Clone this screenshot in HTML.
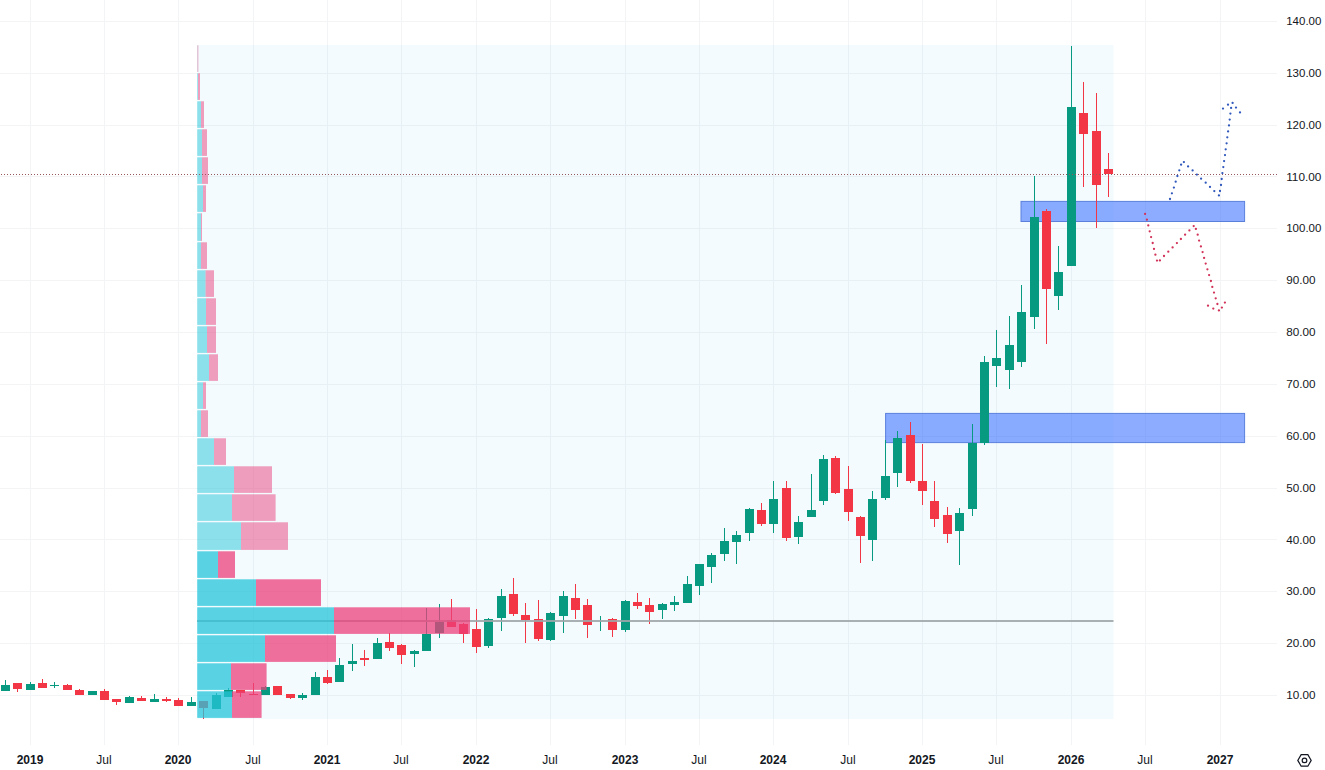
<!DOCTYPE html><html><head><meta charset="utf-8"><title>Chart</title><style>html,body{margin:0;padding:0;background:#fff;overflow:hidden}body{width:1325px;height:770px;font-family:"Liberation Sans",sans-serif}svg{display:block}</style></head><body><svg width="1325" height="770" viewBox="0 0 1325 770"><rect width="1325" height="770" fill="#fff"/><path d="M0 695.5H1277 M0 643.5H1277 M0 591.5H1277 M0 539.5H1277 M0 488.5H1277 M0 436.5H1277 M0 384.5H1277 M0 332.5H1277 M0 280.5H1277 M0 228.5H1277 M0 176.5H1277 M0 125.5H1277 M0 73.5H1277 M0 21.5H1277 M30.5 0V745 M104.5 0V745 M178.5 0V745 M253.5 0V745 M327.5 0V745 M401.5 0V745 M476.5 0V745 M550.5 0V745 M625.5 0V745 M699.5 0V745 M773.5 0V745 M848.5 0V745 M922.5 0V745 M996.5 0V745 M1071.5 0V745 M1145.5 0V745 M1220.5 0V745" stroke="#f2f4f6" stroke-width="1" fill="none" shape-rendering="crispEdges"/><rect x="197.5" y="45" width="916.0" height="674" fill="rgba(3,169,244,0.046)"/><rect x="1021" y="201.4" width="223.5999999999999" height="20.099999999999994" fill="rgba(41,98,255,0.53)" stroke="#5b80dc" stroke-width="1"/><rect x="885.6" y="413.4" width="358.9999999999999" height="29.200000000000045" fill="rgba(41,98,255,0.53)" stroke="#5b80dc" stroke-width="1"/><path d="M5 680h1V691h-1zM30 682h1V690h-1zM54 682h1V688h-1zM92 691h1V695h-1zM129 696h1V703h-1zM154 694h1V702h-1zM191 697h1V706h-1zM216 693h1V709h-1zM228 688h1V697h-1zM265 686h1V695h-1zM302 693h1V700h-1zM315 672h1V695h-1zM339 658h1V682h-1zM352 644h1V671h-1zM377 638h1V659h-1zM414 650h1V667h-1zM426 608h1V651h-1zM439 604h1V638h-1zM488 618h1V648h-1zM501 589h1V631h-1zM550 612h1V641h-1zM563 591h1V633h-1zM600 616h1V631h-1zM625 600h1V632h-1zM662 603h1V619h-1zM674 596h1V611h-1zM687 576h1V603h-1zM699 564h1V595h-1zM711 553h1V583h-1zM724 528h1V561h-1zM736 531h1V564h-1zM749 508h1V541h-1zM773 481h1V533h-1zM798 516h1V544h-1zM811 474h1V517h-1zM823 455h1V505h-1zM872 491h1V561h-1zM885 440h1V500h-1zM897 431h1V487h-1zM959 508h1V565h-1zM972 424h1V516h-1zM984 356h1V445h-1zM996 330h1V387h-1zM1009 316h1V389h-1zM1021 285h1V367h-1zM1034 176h1V329h-1zM1058 246h1V310h-1zM1071 46h1V266h-1zM1 685h9V691h-9zM26 684h9V690h-9zM50 685h9V686h-9zM88 691h9V695h-9zM125 697h9V703h-9zM150 699h9V702h-9zM187 702h9V706h-9zM212 695h9V709h-9zM224 690h9V697h-9zM261 687h9V695h-9zM298 695h9V698h-9zM311 677h9V695h-9zM335 665h9V682h-9zM348 661h9V664h-9zM373 643h9V659h-9zM410 651h9V654h-9zM422 634h9V651h-9zM435 622h9V633h-9zM484 619h9V646h-9zM497 596h9V618h-9zM546 613h9V640h-9zM559 596h9V616h-9zM596 621h9V621h-9zM621 601h9V630h-9zM658 604h9V610h-9zM670 602h9V605h-9zM683 584h9V603h-9zM695 564h9V586h-9zM707 555h9V567h-9zM720 541h9V554h-9zM732 535h9V542h-9zM745 509h9V533h-9zM769 499h9V524h-9zM794 522h9V537h-9zM807 510h9V517h-9zM819 459h9V501h-9zM868 499h9V540h-9zM881 476h9V498h-9zM893 438h9V473h-9zM955 513h9V531h-9zM968 443h9V509h-9zM980 362h9V443h-9zM992 358h9V366h-9zM1005 345h9V370h-9zM1017 312h9V362h-9zM1030 217h9V317h-9zM1054 272h9V296h-9zM1067 107h9V266h-9z" fill="#089981" shape-rendering="crispEdges"/><path d="M17 683h1V692h-1zM42 679h1V688h-1zM67 684h1V690h-1zM79 689h1V695h-1zM104 689h1V700h-1zM116 699h1V705h-1zM141 696h1V701h-1zM166 697h1V702h-1zM178 698h1V706h-1zM203 701h1V719h-1zM240 690h1V697h-1zM253 683h1V695h-1zM277 686h1V695h-1zM290 694h1V699h-1zM327 670h1V684h-1zM364 650h1V666h-1zM389 633h1V651h-1zM401 644h1V664h-1zM451 599h1V627h-1zM463 623h1V643h-1zM476 609h1V653h-1zM513 578h1V616h-1zM525 603h1V643h-1zM538 600h1V641h-1zM575 584h1V619h-1zM587 599h1V638h-1zM612 618h1V637h-1zM637 593h1V609h-1zM649 598h1V624h-1zM761 503h1V526h-1zM786 481h1V541h-1zM835 456h1V494h-1zM848 466h1V521h-1zM860 516h1V563h-1zM910 422h1V483h-1zM922 444h1V505h-1zM934 481h1V527h-1zM947 507h1V543h-1zM1046 209h1V344h-1zM1083 82h1V187h-1zM1096 93h1V228h-1zM1108 153h1V197h-1zM13 683h9V689h-9zM38 683h9V688h-9zM63 685h9V690h-9zM75 690h9V695h-9zM100 691h9V700h-9zM112 699h9V702h-9zM137 698h9V701h-9zM162 699h9V701h-9zM174 700h9V706h-9zM199 701h9V708h-9zM236 690h9V693h-9zM249 694h9V695h-9zM273 686h9V695h-9zM286 694h9V698h-9zM323 677h9V683h-9zM360 658h9V660h-9zM385 642h9V648h-9zM397 645h9V655h-9zM447 620h9V627h-9zM459 624h9V634h-9zM472 629h9V647h-9zM509 594h9V614h-9zM521 615h9V620h-9zM534 619h9V639h-9zM571 598h9V610h-9zM583 605h9V625h-9zM608 619h9V630h-9zM633 602h9V606h-9zM645 605h9V612h-9zM757 510h9V524h-9zM782 488h9V538h-9zM831 458h9V493h-9zM844 489h9V512h-9zM856 517h9V536h-9zM906 435h9V481h-9zM918 481h9V491h-9zM930 501h9V519h-9zM943 515h9V534h-9zM1042 211h9V289h-9zM1079 113h9V134h-9zM1092 131h9V185h-9zM1104 169h9V174h-9z" fill="#f23645" shape-rendering="crispEdges"/><rect x="197" y="620" width="916.5" height="2" fill="rgba(158,165,168,0.88)"/><rect x="197.2" y="45.30" width="0.30" height="26.60" fill="rgba(38,198,218,0.5)"/><rect x="197.5" y="45.30" width="0.80" height="26.60" fill="rgba(236,64,122,0.5)"/><rect x="197.2" y="73.30" width="0.80" height="26.60" fill="rgba(38,198,218,0.5)"/><rect x="198" y="73.30" width="2.00" height="26.60" fill="rgba(236,64,122,0.5)"/><rect x="197.2" y="101.30" width="3.80" height="26.60" fill="rgba(38,198,218,0.5)"/><rect x="201" y="101.30" width="3.00" height="26.60" fill="rgba(236,64,122,0.5)"/><rect x="197.2" y="129.30" width="4.80" height="26.60" fill="rgba(38,198,218,0.5)"/><rect x="202" y="129.30" width="5.00" height="26.60" fill="rgba(236,64,122,0.5)"/><rect x="197.2" y="157.30" width="4.80" height="26.60" fill="rgba(38,198,218,0.5)"/><rect x="202" y="157.30" width="6.00" height="26.60" fill="rgba(236,64,122,0.5)"/><rect x="197.2" y="185.30" width="5.80" height="26.60" fill="rgba(38,198,218,0.5)"/><rect x="203" y="185.30" width="3.00" height="26.60" fill="rgba(236,64,122,0.5)"/><rect x="197.2" y="213.30" width="3.80" height="27.60" fill="rgba(38,198,218,0.5)"/><rect x="201" y="213.30" width="1.00" height="27.60" fill="rgba(236,64,122,0.5)"/><rect x="197.2" y="242.30" width="3.80" height="26.60" fill="rgba(38,198,218,0.5)"/><rect x="201" y="242.30" width="6.00" height="26.60" fill="rgba(236,64,122,0.5)"/><rect x="197.2" y="270.30" width="8.40" height="26.60" fill="rgba(38,198,218,0.5)"/><rect x="205.6" y="270.30" width="8.40" height="26.60" fill="rgba(236,64,122,0.5)"/><rect x="197.2" y="298.30" width="8.80" height="26.60" fill="rgba(38,198,218,0.5)"/><rect x="206" y="298.30" width="10.00" height="26.60" fill="rgba(236,64,122,0.5)"/><rect x="197.2" y="326.30" width="9.80" height="26.60" fill="rgba(38,198,218,0.5)"/><rect x="207" y="326.30" width="9.00" height="26.60" fill="rgba(236,64,122,0.5)"/><rect x="197.2" y="354.30" width="11.80" height="26.60" fill="rgba(38,198,218,0.5)"/><rect x="209" y="354.30" width="9.00" height="26.60" fill="rgba(236,64,122,0.5)"/><rect x="197.2" y="382.30" width="5.80" height="26.60" fill="rgba(38,198,218,0.5)"/><rect x="203" y="382.30" width="3.00" height="26.60" fill="rgba(236,64,122,0.5)"/><rect x="197.2" y="410.30" width="3.80" height="26.60" fill="rgba(38,198,218,0.5)"/><rect x="201" y="410.30" width="7.00" height="26.60" fill="rgba(236,64,122,0.5)"/><rect x="197.2" y="438.30" width="16.80" height="26.60" fill="rgba(38,198,218,0.5)"/><rect x="214" y="438.30" width="12.00" height="26.60" fill="rgba(236,64,122,0.5)"/><rect x="197.2" y="466.30" width="36.80" height="26.60" fill="rgba(38,198,218,0.5)"/><rect x="234" y="466.30" width="38.00" height="26.60" fill="rgba(236,64,122,0.5)"/><rect x="197.2" y="494.30" width="34.80" height="26.60" fill="rgba(38,198,218,0.5)"/><rect x="232" y="494.30" width="43.60" height="26.60" fill="rgba(236,64,122,0.5)"/><rect x="197.2" y="522.30" width="43.80" height="27.60" fill="rgba(38,198,218,0.5)"/><rect x="241" y="522.30" width="47.00" height="27.60" fill="rgba(236,64,122,0.5)"/><rect x="197.2" y="551.30" width="20.80" height="26.60" fill="rgba(38,198,218,0.75)"/><rect x="218" y="551.30" width="17.00" height="26.60" fill="rgba(236,64,122,0.75)"/><rect x="197.2" y="579.30" width="58.80" height="26.60" fill="rgba(38,198,218,0.75)"/><rect x="256" y="579.30" width="65.00" height="26.60" fill="rgba(236,64,122,0.75)"/><rect x="197.2" y="607.30" width="136.80" height="26.60" fill="rgba(38,198,218,0.75)"/><rect x="334" y="607.30" width="136.00" height="26.60" fill="rgba(236,64,122,0.75)"/><rect x="197.2" y="635.30" width="67.80" height="26.60" fill="rgba(38,198,218,0.75)"/><rect x="265" y="635.30" width="71.00" height="26.60" fill="rgba(236,64,122,0.75)"/><rect x="197.2" y="663.30" width="33.80" height="26.60" fill="rgba(38,198,218,0.75)"/><rect x="231" y="663.30" width="35.60" height="26.60" fill="rgba(236,64,122,0.75)"/><rect x="197.2" y="691.30" width="34.80" height="26.60" fill="rgba(38,198,218,0.75)"/><rect x="232" y="691.30" width="29.60" height="26.60" fill="rgba(236,64,122,0.75)"/><path d="M0.5 174.5H1277" stroke="#96585d" stroke-width="1" stroke-dasharray="1 2" fill="none" shape-rendering="crispEdges"/><path d="M1168.85 199.00a1.15 1.15 0 1 0 2.3 0a1.15 1.15 0 1 0 -2.3 0zM1170.75 193.30a1.15 1.15 0 1 0 2.3 0a1.15 1.15 0 1 0 -2.3 0zM1172.75 187.60a1.15 1.15 0 1 0 2.3 0a1.15 1.15 0 1 0 -2.3 0zM1174.55 181.70a1.15 1.15 0 1 0 2.3 0a1.15 1.15 0 1 0 -2.3 0zM1176.25 176.00a1.15 1.15 0 1 0 2.3 0a1.15 1.15 0 1 0 -2.3 0zM1178.15 170.30a1.15 1.15 0 1 0 2.3 0a1.15 1.15 0 1 0 -2.3 0zM1179.95 164.70a1.15 1.15 0 1 0 2.3 0a1.15 1.15 0 1 0 -2.3 0zM1182.75 162.10a1.15 1.15 0 1 0 2.3 0a1.15 1.15 0 1 0 -2.3 0zM1186.95 166.40a1.15 1.15 0 1 0 2.3 0a1.15 1.15 0 1 0 -2.3 0zM1191.45 170.40a1.15 1.15 0 1 0 2.3 0a1.15 1.15 0 1 0 -2.3 0zM1195.75 174.60a1.15 1.15 0 1 0 2.3 0a1.15 1.15 0 1 0 -2.3 0zM1199.95 178.70a1.15 1.15 0 1 0 2.3 0a1.15 1.15 0 1 0 -2.3 0zM1204.55 182.70a1.15 1.15 0 1 0 2.3 0a1.15 1.15 0 1 0 -2.3 0zM1208.85 186.90a1.15 1.15 0 1 0 2.3 0a1.15 1.15 0 1 0 -2.3 0zM1213.15 191.10a1.15 1.15 0 1 0 2.3 0a1.15 1.15 0 1 0 -2.3 0zM1217.75 195.40a1.15 1.15 0 1 0 2.3 0a1.15 1.15 0 1 0 -2.3 0zM1218.85 191.00a1.15 1.15 0 1 0 2.3 0a1.15 1.15 0 1 0 -2.3 0zM1219.85 185.00a1.15 1.15 0 1 0 2.3 0a1.15 1.15 0 1 0 -2.3 0zM1220.55 179.00a1.15 1.15 0 1 0 2.3 0a1.15 1.15 0 1 0 -2.3 0zM1221.25 173.10a1.15 1.15 0 1 0 2.3 0a1.15 1.15 0 1 0 -2.3 0zM1222.15 167.10a1.15 1.15 0 1 0 2.3 0a1.15 1.15 0 1 0 -2.3 0zM1222.95 161.10a1.15 1.15 0 1 0 2.3 0a1.15 1.15 0 1 0 -2.3 0zM1223.85 155.10a1.15 1.15 0 1 0 2.3 0a1.15 1.15 0 1 0 -2.3 0zM1224.55 149.30a1.15 1.15 0 1 0 2.3 0a1.15 1.15 0 1 0 -2.3 0zM1225.45 143.30a1.15 1.15 0 1 0 2.3 0a1.15 1.15 0 1 0 -2.3 0zM1226.15 137.30a1.15 1.15 0 1 0 2.3 0a1.15 1.15 0 1 0 -2.3 0zM1226.95 131.40a1.15 1.15 0 1 0 2.3 0a1.15 1.15 0 1 0 -2.3 0zM1227.85 125.40a1.15 1.15 0 1 0 2.3 0a1.15 1.15 0 1 0 -2.3 0zM1228.55 119.60a1.15 1.15 0 1 0 2.3 0a1.15 1.15 0 1 0 -2.3 0zM1229.25 113.60a1.15 1.15 0 1 0 2.3 0a1.15 1.15 0 1 0 -2.3 0zM1229.95 107.90a1.15 1.15 0 1 0 2.3 0a1.15 1.15 0 1 0 -2.3 0zM1231.45 102.90a1.15 1.15 0 1 0 2.3 0a1.15 1.15 0 1 0 -2.3 0zM1226.85 104.70a1.15 1.15 0 1 0 2.3 0a1.15 1.15 0 1 0 -2.3 0zM1221.85 108.60a1.15 1.15 0 1 0 2.3 0a1.15 1.15 0 1 0 -2.3 0zM1234.85 107.60a1.15 1.15 0 1 0 2.3 0a1.15 1.15 0 1 0 -2.3 0zM1238.85 112.40a1.15 1.15 0 1 0 2.3 0a1.15 1.15 0 1 0 -2.3 0z" fill="#3159bd"/><path d="M1143.95 213.90a1.15 1.15 0 1 0 2.3 0a1.15 1.15 0 1 0 -2.3 0zM1145.75 219.70a1.15 1.15 0 1 0 2.3 0a1.15 1.15 0 1 0 -2.3 0zM1147.15 225.40a1.15 1.15 0 1 0 2.3 0a1.15 1.15 0 1 0 -2.3 0zM1148.55 231.30a1.15 1.15 0 1 0 2.3 0a1.15 1.15 0 1 0 -2.3 0zM1149.95 237.10a1.15 1.15 0 1 0 2.3 0a1.15 1.15 0 1 0 -2.3 0zM1151.55 243.00a1.15 1.15 0 1 0 2.3 0a1.15 1.15 0 1 0 -2.3 0zM1152.85 248.90a1.15 1.15 0 1 0 2.3 0a1.15 1.15 0 1 0 -2.3 0zM1154.25 254.70a1.15 1.15 0 1 0 2.3 0a1.15 1.15 0 1 0 -2.3 0zM1155.85 260.60a1.15 1.15 0 1 0 2.3 0a1.15 1.15 0 1 0 -2.3 0zM1158.75 260.40a1.15 1.15 0 1 0 2.3 0a1.15 1.15 0 1 0 -2.3 0zM1162.85 256.00a1.15 1.15 0 1 0 2.3 0a1.15 1.15 0 1 0 -2.3 0zM1167.15 251.70a1.15 1.15 0 1 0 2.3 0a1.15 1.15 0 1 0 -2.3 0zM1171.45 247.40a1.15 1.15 0 1 0 2.3 0a1.15 1.15 0 1 0 -2.3 0zM1175.75 243.10a1.15 1.15 0 1 0 2.3 0a1.15 1.15 0 1 0 -2.3 0zM1179.75 239.00a1.15 1.15 0 1 0 2.3 0a1.15 1.15 0 1 0 -2.3 0zM1183.95 234.70a1.15 1.15 0 1 0 2.3 0a1.15 1.15 0 1 0 -2.3 0zM1188.25 230.40a1.15 1.15 0 1 0 2.3 0a1.15 1.15 0 1 0 -2.3 0zM1192.55 226.10a1.15 1.15 0 1 0 2.3 0a1.15 1.15 0 1 0 -2.3 0zM1194.75 228.90a1.15 1.15 0 1 0 2.3 0a1.15 1.15 0 1 0 -2.3 0zM1196.55 234.70a1.15 1.15 0 1 0 2.3 0a1.15 1.15 0 1 0 -2.3 0zM1197.95 240.60a1.15 1.15 0 1 0 2.3 0a1.15 1.15 0 1 0 -2.3 0zM1199.75 246.40a1.15 1.15 0 1 0 2.3 0a1.15 1.15 0 1 0 -2.3 0zM1201.45 252.10a1.15 1.15 0 1 0 2.3 0a1.15 1.15 0 1 0 -2.3 0zM1202.95 257.90a1.15 1.15 0 1 0 2.3 0a1.15 1.15 0 1 0 -2.3 0zM1204.55 263.60a1.15 1.15 0 1 0 2.3 0a1.15 1.15 0 1 0 -2.3 0zM1206.25 269.30a1.15 1.15 0 1 0 2.3 0a1.15 1.15 0 1 0 -2.3 0zM1207.95 275.10a1.15 1.15 0 1 0 2.3 0a1.15 1.15 0 1 0 -2.3 0zM1209.75 281.00a1.15 1.15 0 1 0 2.3 0a1.15 1.15 0 1 0 -2.3 0zM1211.15 286.90a1.15 1.15 0 1 0 2.3 0a1.15 1.15 0 1 0 -2.3 0zM1212.85 292.60a1.15 1.15 0 1 0 2.3 0a1.15 1.15 0 1 0 -2.3 0zM1214.55 298.30a1.15 1.15 0 1 0 2.3 0a1.15 1.15 0 1 0 -2.3 0zM1216.25 304.00a1.15 1.15 0 1 0 2.3 0a1.15 1.15 0 1 0 -2.3 0zM1217.75 310.40a1.15 1.15 0 1 0 2.3 0a1.15 1.15 0 1 0 -2.3 0zM1206.85 305.70a1.15 1.15 0 1 0 2.3 0a1.15 1.15 0 1 0 -2.3 0zM1212.15 308.60a1.15 1.15 0 1 0 2.3 0a1.15 1.15 0 1 0 -2.3 0zM1223.75 302.60a1.15 1.15 0 1 0 2.3 0a1.15 1.15 0 1 0 -2.3 0zM1220.75 307.60a1.15 1.15 0 1 0 2.3 0a1.15 1.15 0 1 0 -2.3 0z" fill="#d23358"/><g font-family="Liberation Sans, sans-serif" font-size="11.8" fill="#131722"><text x="1286.2" y="699.0" textLength="29.3" lengthAdjust="spacingAndGlyphs">10.00</text><text x="1286.2" y="647.1" textLength="29.3" lengthAdjust="spacingAndGlyphs">20.00</text><text x="1286.2" y="595.3" textLength="29.3" lengthAdjust="spacingAndGlyphs">30.00</text><text x="1286.2" y="543.5" textLength="29.3" lengthAdjust="spacingAndGlyphs">40.00</text><text x="1286.2" y="491.6" textLength="29.3" lengthAdjust="spacingAndGlyphs">50.00</text><text x="1286.2" y="439.8" textLength="29.3" lengthAdjust="spacingAndGlyphs">60.00</text><text x="1286.2" y="387.9" textLength="29.3" lengthAdjust="spacingAndGlyphs">70.00</text><text x="1286.2" y="336.1" textLength="29.3" lengthAdjust="spacingAndGlyphs">80.00</text><text x="1286.2" y="284.2" textLength="29.3" lengthAdjust="spacingAndGlyphs">90.00</text><text x="1286.2" y="232.4" textLength="35.2" lengthAdjust="spacingAndGlyphs">100.00</text><text x="1286.2" y="180.5" textLength="35.2" lengthAdjust="spacingAndGlyphs">110.00</text><text x="1286.2" y="128.7" textLength="35.2" lengthAdjust="spacingAndGlyphs">120.00</text><text x="1286.2" y="76.8" textLength="35.2" lengthAdjust="spacingAndGlyphs">130.00</text><text x="1286.2" y="25.0" textLength="35.2" lengthAdjust="spacingAndGlyphs">140.00</text></g><g font-family="Liberation Sans, sans-serif" font-size="12" fill="#131722" text-anchor="middle"><text x="30.0" y="764" font-weight="bold">2019</text><text x="104.0" y="764">Jul</text><text x="178.0" y="764" font-weight="bold">2020</text><text x="253.0" y="764">Jul</text><text x="327.0" y="764" font-weight="bold">2021</text><text x="401.0" y="764">Jul</text><text x="476.0" y="764" font-weight="bold">2022</text><text x="550.0" y="764">Jul</text><text x="625.0" y="764" font-weight="bold">2023</text><text x="699.0" y="764">Jul</text><text x="773.0" y="764" font-weight="bold">2024</text><text x="848.0" y="764">Jul</text><text x="922.0" y="764" font-weight="bold">2025</text><text x="996.0" y="764">Jul</text><text x="1071.0" y="764" font-weight="bold">2026</text><text x="1145.0" y="764">Jul</text><text x="1220.0" y="764" font-weight="bold">2027</text></g><polygon points="1311.20,760.40 1307.85,766.20 1301.15,766.20 1297.80,760.40 1301.15,754.60 1307.85,754.60" fill="none" stroke="#131722" stroke-width="1.2"/><circle cx="1304.5" cy="760.4" r="2.3" fill="none" stroke="#131722" stroke-width="1.2"/></svg></body></html>
